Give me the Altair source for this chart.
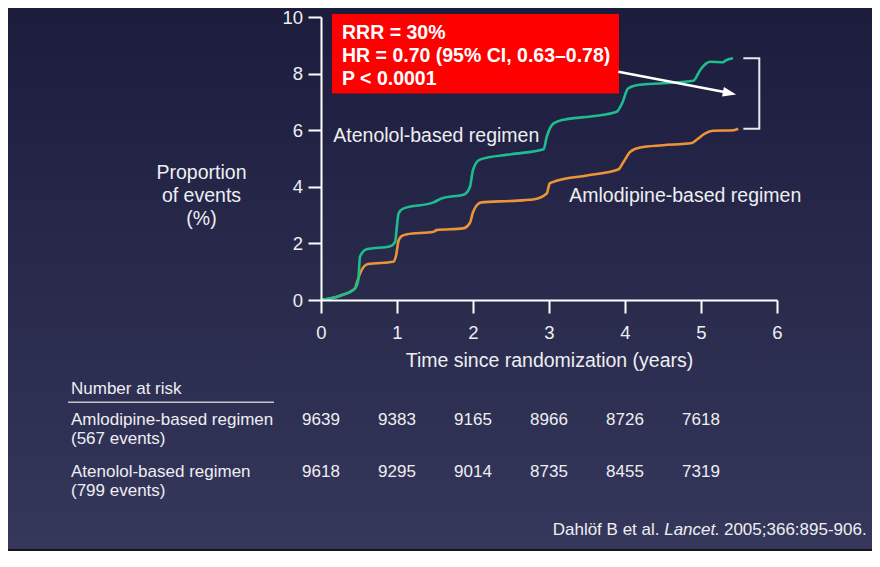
import altair as alt
import pandas as pd

# ---------------- data ----------------
aten_t = [0, 0.25, 0.447, 0.49, 0.513, 0.60, 0.91, 0.975, 0.995, 1.02, 1.08, 1.48, 1.59, 1.89, 1.96,
          2.00, 2.09, 2.50, 2.93, 2.97, 3.06, 3.21, 3.60, 3.89, 3.96, 4.04, 4.15, 4.50, 4.90, 4.99,
          5.07, 5.12, 5.29, 5.32, 5.42]
aten_p = [0, 0.15, 0.41, 0.70, 1.53, 1.79, 1.90, 2.05, 2.50, 3.05, 3.23, 3.45, 3.59, 3.74, 4.00,
          4.60, 4.96, 5.15, 5.33, 5.76, 6.24, 6.38, 6.50, 6.65, 6.94, 7.47, 7.59, 7.66, 7.75, 8.13,
          8.36, 8.42, 8.40, 8.46, 8.54]

amlo_t = [0, 0.25, 0.447, 0.48, 0.535, 0.62, 0.95, 0.99, 1.02, 1.06, 1.13, 1.48, 1.52, 1.87, 1.96,
          2.00, 2.05, 2.11, 2.50, 2.79, 2.97, 3.01, 3.10, 3.50, 3.91, 3.98, 4.07, 4.20, 4.50, 4.88,
          4.96, 5.05, 5.16, 5.43, 5.49]
amlo_p = [0, 0.15, 0.41, 0.68, 1.06, 1.27, 1.35, 1.60, 2.10, 2.26, 2.32, 2.41, 2.47, 2.53, 2.73,
          3.10, 3.35, 3.45, 3.50, 3.55, 3.76, 4.12, 4.21, 4.40, 4.61, 4.88, 5.24, 5.39, 5.47, 5.55,
          5.70, 5.88, 5.98, 6.00, 6.05]

risk_years = [0, 1, 2, 3, 4, 5]
amlo_risk = [9639, 9383, 9165, 8966, 8726, 7618]
aten_risk = [9618, 9295, 9014, 8735, 8455, 7319]

x_ticks = [0, 1, 2, 3, 4, 5, 6]
y_ticks = [0, 2, 4, 6, 8, 10]

box_lines = ["RRR = 30%", "HR = 0.70 (95% CI, 0.63\u20130.78)", "P < 0.0001"]
series_labels = ["Atenolol-based regimen", "Amlodipine-based regimen"]
table_head = "Number at risk"
table_rows = [["Amlodipine-based regimen", "(567 events)"], ["Atenolol-based regimen", "(799 events)"]]
cite_parts = ["Dahl\u00f6f B et al.", "Lancet.", "2005;366:895-906."]

# arrow (data units) and bracket x extent
arrow_t = [3.912, 5.376]
arrow_p = [8.067, 7.311]
bracket_t = [5.557, 5.767]

# ---------------- styling ----------------
FONT = "Liberation Sans"
TXT = "#eeeef2"
GREEN = "#1dbd8d"
ORANGE = "#ee9438"

xs = alt.Scale(domain=[0, 6], nice=False, zero=False)
ys = alt.Scale(domain=[0, 10], nice=False, zero=False)
xaxis = alt.Axis(values=x_ticks, title="Time since randomization (years)", grid=False, zindex=2,
                 domainColor="white", domainWidth=2, tickColor="white", tickWidth=2, tickSize=13,
                 labelColor=TXT, labelFontSize=18.5, labelFont=FONT, labelPadding=10.5,
                 labelFlush=False, labelOverlap=False,
                 titleColor=TXT, titleFontSize=19.5, titleFont=FONT, titleFontWeight="normal",
                 titleX=228, titleY=66, titleBaseline="alphabetic", titleAlign="center")
yaxis = alt.Axis(values=y_ticks, title=["Proportion", "of events", "(%)"], grid=False, zindex=2,
                 domainColor="white", domainWidth=2, tickColor="white", tickWidth=2, tickSize=13,
                 labelColor=TXT, labelFontSize=18.5, labelFont=FONT, labelPadding=5.5,
                 labelFlush=False, labelOverlap=False,
                 titleColor=TXT, titleFontSize=19.5, titleFont=FONT, titleFontWeight="normal",
                 titleAngle=0, titleAlign="center", titleBaseline="alphabetic",
                 titleX=-120, titleY=161.3, titleLineHeight=23.3)

X = alt.X("t:Q", scale=xs, axis=xaxis)
Y = alt.Y("p:Q", scale=ys, axis=yaxis)

one = pd.DataFrame({"a": [0]})

# background gradient (covers the whole canvas)
bg = alt.Chart(one).mark_rect(
    color=alt.LinearGradient(gradient="linear",
                             stops=[alt.GradientStop(color="#1c1d3d", offset=0),
                                    alt.GradientStop(color="#35375b", offset=1)],
                             x1=0, x2=0, y1=0, y2=1)
).encode(x=alt.value(-313), x2=alt.value(551), y=alt.value(-9), y2=alt.value(534))

bottom_edge = alt.Chart(one).mark_rule(color="#15151c", strokeWidth=2).encode(
    x=alt.value(-313), x2=alt.value(551), y=alt.value(533))

aten_df = pd.DataFrame({"t": aten_t, "p": aten_p})
amlo_df = pd.DataFrame({"t": amlo_t, "p": amlo_p})

amlo_line = alt.Chart(amlo_df).mark_line(color=ORANGE, strokeWidth=2.6, interpolate="monotone").encode(x=X, y=Y)
aten_line = alt.Chart(aten_df).mark_line(color=GREEN, strokeWidth=2.6, interpolate="monotone").encode(x=X, y=Y)

# red box with statistics
box = alt.Chart(one).mark_rect(color="#ff0000").encode(
    x=alt.value(11), x2=alt.value(298), y=alt.value(-3), y2=alt.value(76.5))


def txt(s, x, y, size=17, align="left", style="normal", weight="normal", color=TXT):
    return alt.Chart(pd.DataFrame({"s": [s]})).mark_text(
        align=align, baseline="alphabetic", fontSize=size, font=FONT,
        fontStyle=style, fontWeight=weight, color=color
    ).encode(x=alt.value(x), y=alt.value(y), text="s:N")


box_text = [txt(s, 21, yy, size=19.5, weight="bold", color="white")
            for s, yy in zip(box_lines, [22, 44.5, 67.5])]

# arrow
arrow_df = pd.DataFrame({"t": [arrow_t[0]], "p": [arrow_p[0]], "t2": [arrow_t[1]], "p2": [arrow_p[1]]})
shaft = alt.Chart(arrow_df).mark_rule(color="white", strokeWidth=2.5).encode(
    x=X, y=Y, x2="t2:Q", y2="p2:Q")
head = alt.Chart(pd.DataFrame({"t": [arrow_t[1]], "p": [arrow_p[1]]})).mark_point(
    shape="M1,0L-1,-0.72L-1,0.72Z", filled=True, size=180, angle=11, color="white", opacity=1
).encode(x=X, y=Y)

# bracket between end points
top_v = aten_p[-1]
bot_v = amlo_p[-1]
bracket_df = pd.DataFrame({
    "t": [bracket_t[0], bracket_t[1], bracket_t[1], bracket_t[0]],
    "p": [top_v, top_v, bot_v, bot_v],
    "o": [0, 1, 2, 3]})
bracket = alt.Chart(bracket_df).mark_line(color="#e8e8ec", strokeWidth=2).encode(
    x=X, y=Y, order="o:Q")

# in-plot series labels (data units)
lab_df = pd.DataFrame({"t": [0.162, 3.267], "p": [5.594, 3.45], "s": series_labels})
labels = alt.Chart(lab_df).mark_text(align="left", baseline="alphabetic", fontSize=19.5,
                                     font=FONT, color=TXT).encode(x=X, y=Y, text="s:N")

# number at risk table
risk_df1 = pd.DataFrame({"t": risk_years, "n": [str(v) for v in amlo_risk]})
risk_df2 = pd.DataFrame({"t": risk_years, "n": [str(v) for v in aten_risk]})
risk1 = alt.Chart(risk_df1).mark_text(align="center", baseline="alphabetic", fontSize=17,
                                      font=FONT, color=TXT).encode(x=X, y=alt.value(407.5), text="n:N")
risk2 = alt.Chart(risk_df2).mark_text(align="center", baseline="alphabetic", fontSize=17,
                                      font=FONT, color=TXT).encode(x=X, y=alt.value(459.5), text="n:N")

table_text = [
    txt(table_head, -250, 377.3),
    txt(table_rows[0][0], -250, 407.5),
    txt(table_rows[0][1], -250, 426.5),
    txt(table_rows[1][0], -250, 459.5),
    txt(table_rows[1][1], -250, 478.7),
]
underline = alt.Chart(one).mark_rule(color="#c4c4cc", strokeWidth=1.5).encode(
    x=alt.value(-253), x2=alt.value(-47), y=alt.value(385.3))

cite = [
    txt(cite_parts[0], 231.7, 518),
    txt(cite_parts[1], 343.2, 518, style="italic"),
    txt(cite_parts[2], 545.7, 518, align="right"),
]

chart = alt.layer(
    bg, bottom_edge, amlo_line, aten_line, box, *box_text, shaft, head, bracket, labels,
    risk1, risk2, *table_text, underline, *cite
).properties(
    width=456, height=283,
    padding={"left": 313, "top": 9, "right": 95, "bottom": 251},
    autosize=alt.AutoSizeParams(type="none"),
).configure_view(stroke=None).configure(background="#ffffff")

chart.save("out.html", embed_options={"renderer": "svg", "actions": False})
